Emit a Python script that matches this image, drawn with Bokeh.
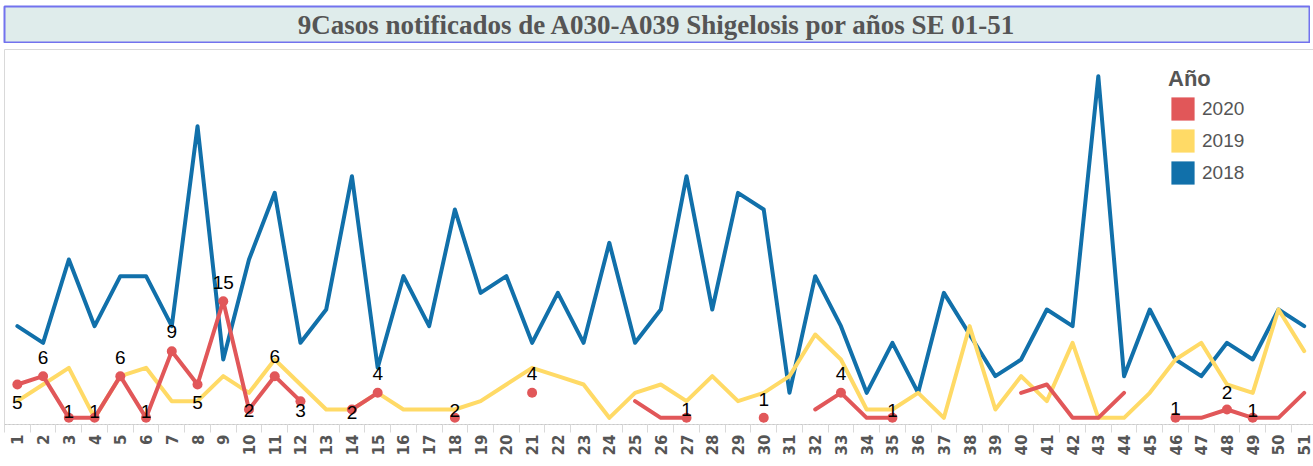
import math
from bokeh.plotting import figure
from bokeh.models import ColumnDataSource, FixedTicker, Legend, LegendItem, Range1d
from bokeh.layouts import column
from bokeh.core.properties import value
from bokeh.embed import file_html
from bokeh.resources import INLINE

NaN = float("nan")

title_text = "9Casos notificados de A030-A039 Shigelosis por años SE 01-51"
legend_title = "Año"
series_names = ["2020", "2019", "2018"]

weeks = list(range(1, 52))
week_labels = [str(w) for w in weeks]

cases_2018 = [12, 10, 20, 12, 18, 18, 12, 36, 8, 20, 28, 10, 14, 30, 7, 18, 12, 26, 16, 18,
              10, 16, 10, 22, 10, 14, 30, 14, 28, 26, 4, 18, 12, 4, 10, 4, 16, 11, 6, 8,
              14, 12, 42, 6, 14, 8, 6, 10, 8, 14, 12]

cases_2019 = [3, 5, 7, 1, 6, 7, 3, 3, 6, 4, 8, 5, 2, 2, 4, 2, 2, 2, 3, 5,
              7, 6, 5, 1, 4, 5, 3, 6, 3, 4, 6, 11, 8, 2, 2, 4, 1, 12, 2, 6,
              3, 10, 1, 1, 4, 8, 10, 5, 4, 14, 9]

cases_2020 = [5, 6, 1, 1, 6, 1, 9, 5, 15, 2, 6, 3, NaN, 2, 4, NaN, NaN, 1, NaN, NaN,
              4, NaN, NaN, NaN, 3, 1, 1, NaN, NaN, 1, NaN, 2, 4, 1, 1, NaN, NaN, NaN, NaN, 4,
              5, 1, 1, 4, NaN, 1, 1, 2, 1, 1, 4]

labels_2020 = ["5", "6", "1", "1", "6", "1", "9", "5", "15", "2", "6", "3", "", "2", "4", "", "", "2", "", "",
               "4", "", "", "", "", "", "1", "", "", "1", "", "", "4", "", "1", "", "", "", "", "",
               "", "", "", "", "", "1", "", "2", "1", "", ""]

# style: pixel offsets of the data labels (positive = downward)
label_dy = {1: 18, 2: -19, 3: -6, 4: -6, 5: -19, 6: -6, 7: -20, 8: 18, 9: -19, 10: 1,
            11: -20, 12: 9, 14: 3, 15: -19, 18: -7, 21: -19, 27: -8, 30: -18, 33: -19,
            35: -7, 46: -9, 48: -17, 49: -7}

RED = "#e15759"
YEL = "#ffda66"
BLUE = "#1170aa"
GRAY = "#555555"

# ---------- title strip ----------
t = figure(width=1307, height=38, x_range=Range1d(0, 1), y_range=Range1d(0, 1),
           output_backend="svg", toolbar_location=None,
           x_axis_location=None, y_axis_location=None, min_border=1,
           background_fill_color="#dfeceb", border_fill_color="white",
           outline_line_color="#7272ee", outline_line_width=2)
t.grid.visible = False
t.text(x=[0.5], y=[0.5], text=[title_text], text_align="center", text_baseline="middle",
       text_font=value("Liberation Serif"), text_font_style="bold",
       text_font_size="27px", text_color=GRAY)

# ---------- main chart ----------
p = figure(frame_width=1310, frame_height=375,
           x_range=Range1d(0.5, 51.4), y_range=Range1d(0.2, 45.2),
           output_backend="svg", toolbar_location=None, y_axis_location=None,
           min_border_left=0, min_border_right=0, min_border_top=1, min_border_bottom=0,
           outline_line_color="#d9d9d9", border_fill_color="white")
p.grid.visible = False

p.line(weeks, cases_2018, line_color=BLUE, line_width=4, line_join="round", line_cap="round")
p.line(weeks, cases_2019, line_color=YEL, line_width=4, line_join="round", line_cap="round")
p.line(weeks, cases_2020, line_color=RED, line_width=4, line_join="round", line_cap="round")

lab_x, lab_y, lab_t, lab_off = [], [], [], []
for w, v, s in zip(weeks, cases_2020, labels_2020):
    if s:
        lab_x.append(w)
        lab_y.append(v)
        lab_t.append(s)
        lab_off.append(label_dy.get(w, -18))
src = ColumnDataSource(dict(x=lab_x, y=lab_y, t=lab_t, dy=lab_off))
p.scatter("x", "y", source=src, size=10, fill_color=RED, line_color=None)
p.text("x", "y", text="t", source=src, y_offset="dy", text_align="center",
       text_baseline="middle", text_font=value("Liberation Sans"),
       text_font_size="19px", text_color="black")

ax = p.xaxis[0]
ax.ticker = FixedTicker(ticks=weeks, minor_ticks=[w - 0.5 for w in weeks] + [51.5])
ax.major_label_overrides = {w: l for w, l in zip(weeks, week_labels)}
ax.major_tick_line_color = None
ax.major_tick_out = 8
ax.major_tick_in = 0
ax.minor_tick_line_color = "#d9d9d9"
ax.minor_tick_out = 8
ax.minor_tick_in = 0
ax.axis_line_color = "#c8c8c8"
ax.axis_line_dash = "2 2"
ax.major_label_orientation = math.pi / 2
ax.major_label_standoff = 2
ax.major_label_text_font = "DejaVu Sans"
ax.major_label_text_font_style = "bold"
ax.major_label_text_font_size = "15px"
ax.major_label_text_color = GRAY

items = []
for name, col in zip(series_names, [RED, YEL, BLUE]):
    r = p.quad(left=[NaN], right=[NaN], top=[NaN], bottom=[NaN], fill_color=col, line_color=None)
    items.append(LegendItem(label=name, renderers=[r]))
legend = Legend(items=items, location=(1165, 237), title=legend_title,
                title_text_font="Liberation Sans", title_text_font_style="bold",
                title_text_font_size="22px", title_text_color=GRAY, title_standoff=2,
                label_text_font="Liberation Sans", label_text_font_size="19px",
                label_text_color=GRAY, glyph_width=29, glyph_height=29, label_height=29,
                spacing=3, label_standoff=5, padding=0, margin=0,
                border_line_color=None, background_fill_alpha=0)
p.add_layout(legend)

layout = column(t, p, spacing=5, margin=(5, 0, 0, 3))

open("out.html", "w").write(file_html(layout, INLINE))
